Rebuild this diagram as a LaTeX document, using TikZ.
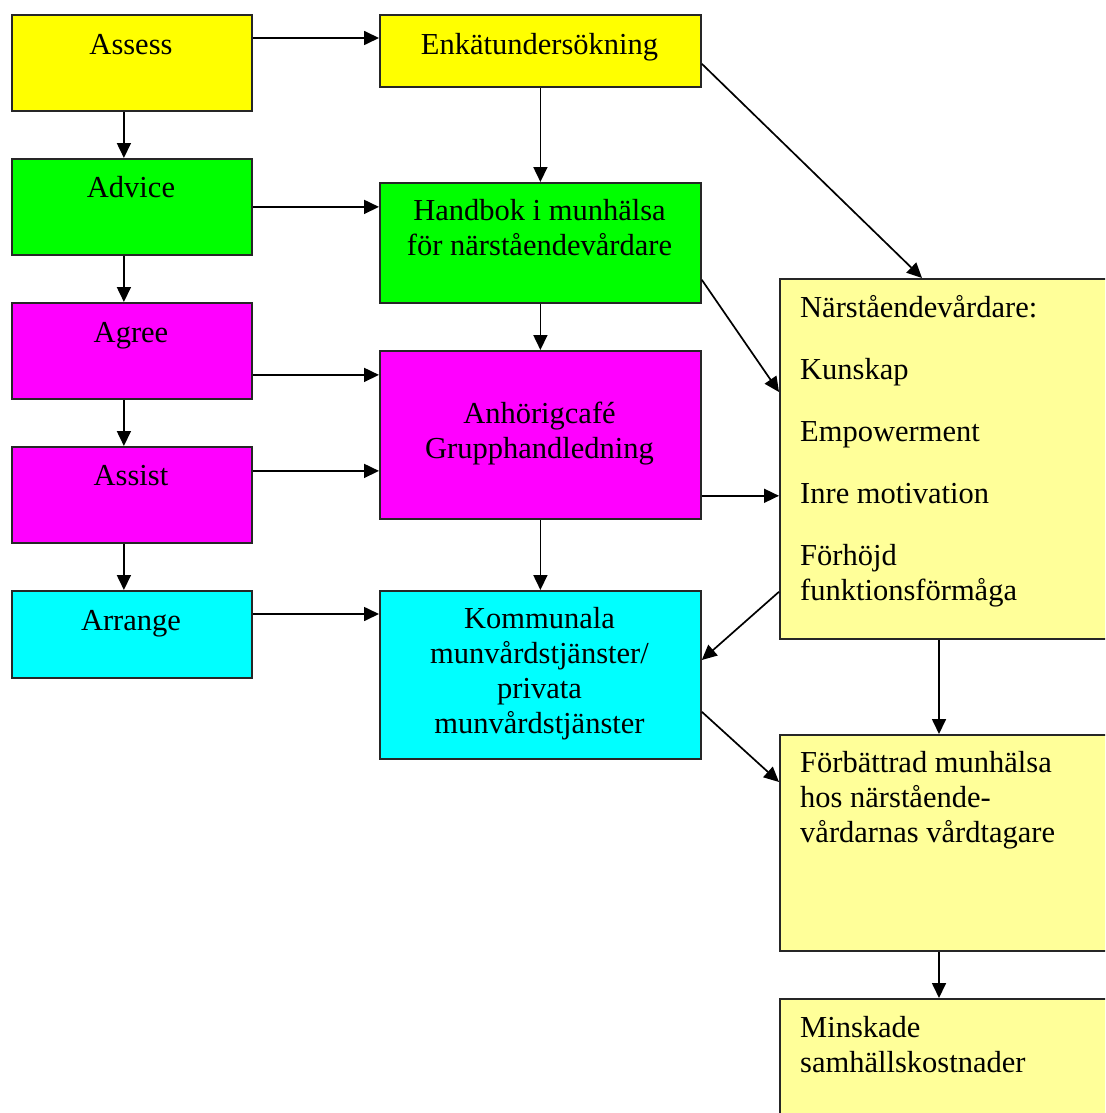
\documentclass[tikz,border=0pt]{standalone}
\usepackage{fontspec}
\setmainfont{Liberation Serif}
\usetikzlibrary{arrows.meta}
\definecolor{cyell}{HTML}{FFFF00}
\definecolor{cgreen}{HTML}{00FF00}
\definecolor{cmag}{HTML}{FF00FF}
\definecolor{ccyan}{HTML}{00FFFF}
\definecolor{cpale}{HTML}{FFFF99}
% strut fixing the height of the first text line
\newcommand{\firstline}{\rule{0pt}{28pt}}
\begin{document}
\begin{tikzpicture}[x=1pt,y=-1pt,
  box/.style={draw=black!85, line width=1.8pt, rectangle, inner sep=0pt, anchor=north west},
  lbox/.style={box, minimum width=240pt},
  mbox/.style={box, minimum width=321pt},
  rbox/.style={box, minimum width=340pt, fill=cpale},
  txt/.style={inner sep=0pt, font=\fontsize{30.5}{35}\selectfont},
  ctxt/.style={txt, anchor=north, align=center},
  ltxt/.style={txt, anchor=north west, align=left},
  arr/.style={line width=1.7pt, -{Triangle[length=15pt,width=14pt]}}]
\useasboundingbox (0,0) rectangle (1105,1113);
\fill[white] (0,0) rectangle (1105,1113);
\clip (0,0) rectangle (1105,1113);

% left column
\node[lbox, fill=cyell,  minimum height=96pt] (assess)  at (11,14)  {};
\node[lbox, fill=cgreen, minimum height=96pt] (advice)  at (11,158) {};
\node[lbox, fill=cmag,   minimum height=96pt] (agree)   at (11,302) {};
\node[lbox, fill=cmag,   minimum height=96pt] (assist)  at (11,446) {};
\node[lbox, fill=ccyan,  minimum height=87pt] (arrange) at (11,590) {};

% middle column
\node[mbox, fill=cyell,  minimum height=72pt]  (enk)     at (379,14)  {};
\node[mbox, fill=cgreen, minimum height=120pt] (handbok) at (379,182) {};
\node[mbox, fill=cmag,   minimum height=168pt] (anh)     at (379,350) {};
\node[mbox, fill=ccyan,  minimum height=168pt] (komm)    at (379,590) {};

% right column
\node[rbox, minimum height=360pt] (narst) at (779,278) {};
\node[rbox, minimum height=216pt] (forb)  at (779,734) {};
\node[rbox, minimum height=130pt] (minsk) at (779,998) {};

% texts
\node[ctxt] (tassess)  at (131,26)  {\firstline Assess};
\node[ctxt] (tadvice)  at (131,169) {\firstline Advice};
\node[ctxt] (tagree)   at (131,314) {\firstline Agree};
\node[ctxt] (tassist)  at (131,457) {\firstline Assist};
\node[ctxt] (tarrange) at (131,602) {\firstline Arrange};

\node[ctxt] (tenk)     at (539.5,26)  {\firstline Enkätundersökning};
\node[ctxt] (thandbok) at (539.5,192) {\firstline Handbok i munhälsa\\för närståendevårdare};
\node[ctxt] (tanh)     at (539.5,395) {\firstline Anhörigcafé\\Grupphandledning};
\node[ctxt] (tkomm)    at (539.5,600) {\firstline Kommunala\\munvårdstjänster/\\privata\\munvårdstjänster};

\node[ltxt] (tnarst) at (800,289) {\firstline Närståendevårdare:\\[27pt]Kunskap\\[27pt]Empowerment\\[27pt]Inre motivation\\[27pt]Förhöjd\\funktionsförmåga};
\node[ltxt] (tforb)  at (800,744) {\firstline Förbättrad munhälsa\\hos närstående-\\vårdarnas vårdtagare};
\node[ltxt] (tminsk) at (800,1009) {\firstline Minskade\\samhällskostnader};

% horizontal connectors from the left column
\draw[arr] ([yshift=-24pt]assess.north east) -- ([yshift=-24pt]enk.north west);
\draw[arr] (advice.east) -- (advice.east -| handbok.west);
\draw[arr] ([yshift=-24pt]agree.east) -- ([yshift=-24pt]agree.east -| anh.west);
\draw[arr] ([yshift=24pt]assist.east) -- ([yshift=24pt]assist.east -| anh.west);
\draw[arr] ([yshift=-24pt]arrange.north east) -- ([yshift=-24pt]komm.north west);

% vertical connectors, left column
\draw[arr] ([xshift=-8pt]assess.south) -- ([xshift=-8pt]advice.north);
\draw[arr] ([xshift=-8pt]advice.south) -- ([xshift=-8pt]agree.north);
\draw[arr] ([xshift=-8pt]agree.south)  -- ([xshift=-8pt]assist.north);
\draw[arr] ([xshift=-8pt]assist.south) -- ([xshift=-8pt]arrange.north);

% vertical connectors, middle column
\draw[arr] (enk.south) -- (handbok.north);
\draw[arr] (handbok.south) -- (anh.north);
\draw[arr] (anh.south) -- (komm.north);

% vertical connectors, right column
\draw[arr] ([xshift=160pt]narst.south west) -- ([xshift=160pt]forb.north west);
\draw[arr] ([xshift=160pt]forb.south west) -- ([xshift=160pt]minsk.north west);

% diagonal and cross connectors
\draw[arr] ([yshift=24pt]enk.south east) -- ([xshift=143pt]narst.north west);
\draw[arr] ([yshift=24pt]handbok.south east) -- ([yshift=-114pt]narst.north west);
\draw[arr] ([yshift=24pt]anh.south east) -- ([yshift=24pt]anh.south east -| narst.west);
\draw[arr] ([yshift=48pt]narst.south west) -- ([yshift=-70pt]komm.north east);
\draw[arr] ([yshift=48pt]komm.south east) -- ([yshift=-48pt]forb.north west);
\end{tikzpicture}
\end{document}
